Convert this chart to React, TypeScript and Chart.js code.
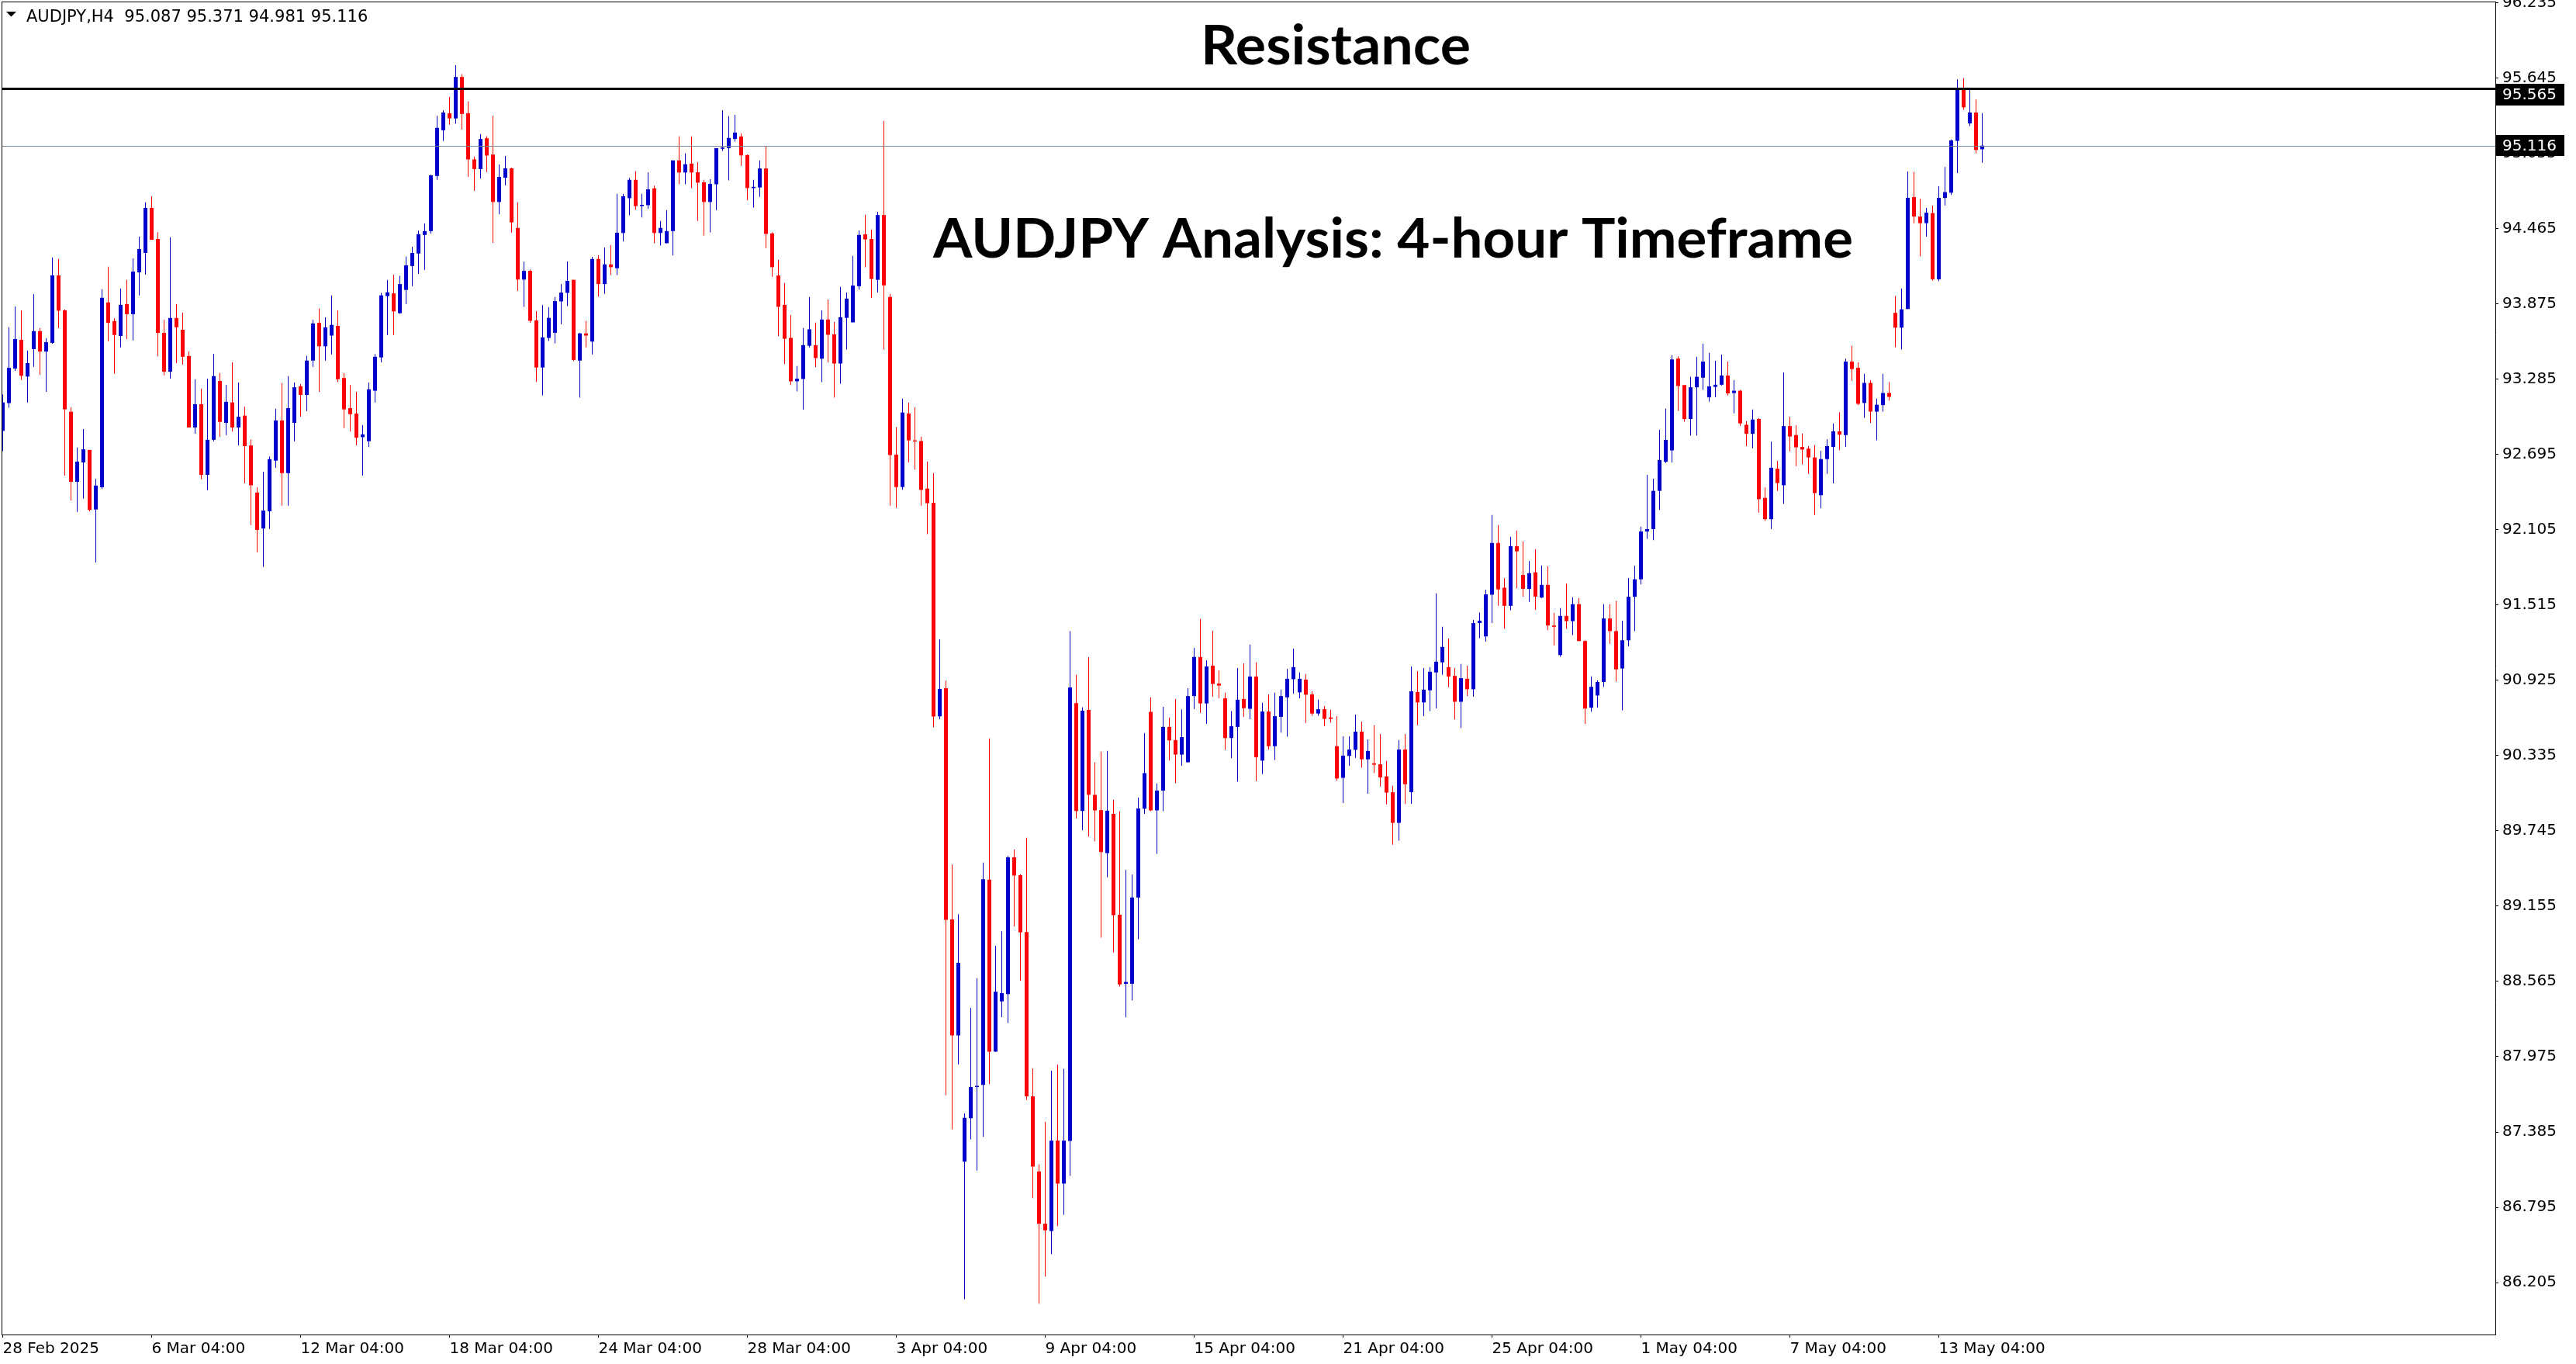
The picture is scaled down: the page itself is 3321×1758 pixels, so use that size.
import React, { useEffect, useRef } from "react";
import { Chart, registerables } from "chart.js";

Chart.register(...registerables);

const OPEN = [
  92.880, 93.098, 93.369, 93.594, 93.306, 93.521, 93.662, 93.502, 93.570, 94.099,
  93.825, 93.030, 92.481, 92.633, 92.731, 92.264, 92.438, 93.887, 93.741, 93.624,
  93.874, 93.795, 94.123, 94.275, 94.628, 94.384, 93.648, 93.344, 93.765, 93.673,
  93.467, 92.907, 93.089, 92.535, 92.810, 93.271, 92.943, 93.103, 92.907, 93.000,
  92.766, 92.397, 92.115, 92.250, 92.647, 92.962, 92.549, 92.943, 93.230, 93.162,
  93.431, 93.727, 93.543, 93.627, 93.703, 93.295, 93.059, 93.016, 92.831, 92.799,
  93.195, 93.456, 93.936, 93.958, 93.803, 93.985, 94.172, 94.270, 94.416, 94.446,
  94.878, 95.236, 95.369, 95.329, 95.654, 95.369, 95.008, 94.932, 95.174, 95.046,
  94.674, 94.864, 94.938, 94.471, 94.066, 94.134, 93.746, 93.377, 93.609, 93.649,
  93.895, 93.962, 94.064, 93.431, 93.644, 93.580, 94.227, 94.031, 94.185, 94.155,
  94.431, 94.704, 94.848, 94.642, 94.649, 94.781, 94.431, 94.351, 94.446, 95.000,
  94.905, 94.975, 94.907, 94.828, 94.674, 94.813, 95.091, 95.096, 95.168, 95.188,
  95.042, 94.783, 94.788, 94.937, 94.428, 94.098, 93.868, 93.609, 93.269, 93.287,
  93.547, 93.552, 93.446, 93.753, 93.637, 93.408, 93.766, 93.731, 94.014, 94.421,
  94.384, 94.064, 94.572, 93.930, 92.694, 92.440, 93.017, 92.806, 92.800, 92.428,
  92.316, 90.643, 90.864, 89.052, 88.142, 87.153, 87.493, 87.738, 87.754, 89.363,
  88.015, 88.409, 88.466, 89.538, 89.398, 88.953, 87.665, 87.076, 86.666, 86.609,
  87.318, 86.981, 87.315, 90.746, 89.901, 90.693, 90.027, 89.908, 89.571, 89.879,
  89.088, 88.547, 88.547, 89.223, 89.919, 90.678, 89.906, 90.061, 90.560, 90.457,
  90.343, 90.283, 90.802, 91.108, 90.744, 91.040, 90.900, 90.784, 90.473, 90.560,
  90.779, 90.702, 90.955, 90.296, 90.681, 90.409, 90.639, 90.792, 90.934, 90.831,
  90.931, 90.815, 90.665, 90.699, 90.634, 90.409, 90.161, 90.333, 90.380, 90.523,
  90.306, 90.275, 90.267, 90.172, 90.048, 89.808, 90.383, 90.048, 90.834, 90.752,
  90.847, 90.987, 91.066, 91.029, 90.960, 90.757, 90.937, 90.855, 91.374, 91.269,
  91.596, 92.002, 91.651, 91.509, 91.976, 91.751, 91.642, 91.772, 91.574, 91.673,
  91.355, 91.123, 91.430, 91.389, 91.522, 91.233, 90.711, 90.806, 90.912, 91.410,
  91.311, 91.018, 91.239, 91.580, 91.717, 92.092, 92.110, 92.410, 92.638, 92.727,
  93.447, 93.239, 92.973, 93.222, 93.297, 93.143, 93.225, 93.242, 93.314, 93.177,
  93.195, 92.928, 92.857, 92.973, 92.355, 92.188, 92.584, 92.454, 92.918, 92.847,
  92.754, 92.741, 92.672, 92.376, 92.659, 92.754, 92.877, 92.847, 93.423, 93.375,
  93.099, 93.256, 93.031, 93.082, 93.177, 93.805, 93.689, 93.836, 94.713, 94.560,
  94.508, 94.587, 94.068, 94.706, 94.747, 95.153, 95.556, 95.290, 95.375, 95.087,
];

const HIGH = [
  93.165, 93.692, 93.855, 93.825, 93.510, 93.952, 93.686, 93.608, 94.240, 94.227,
  93.833, 93.065, 92.750, 92.894, 92.731, 92.503, 93.990, 94.167, 93.762, 93.996,
  94.064, 94.232, 94.403, 94.672, 94.718, 94.438, 93.751, 94.398, 93.874, 93.806,
  93.502, 93.285, 93.211, 93.290, 93.485, 93.334, 93.241, 93.418, 93.260, 93.070,
  92.812, 92.438, 92.560, 92.679, 93.054, 93.255, 93.309, 93.260, 93.247, 93.469,
  93.751, 93.838, 93.770, 93.942, 93.825, 93.334, 93.241, 93.187, 92.926, 93.260,
  93.483, 93.961, 94.064, 94.104, 94.096, 94.246, 94.324, 94.449, 94.506, 94.889,
  95.350, 95.394, 95.497, 95.747, 95.676, 95.462, 95.030, 95.206, 95.190, 95.350,
  94.968, 95.035, 94.943, 94.672, 94.207, 94.142, 93.819, 93.866, 93.850, 93.930,
  94.031, 94.208, 94.064, 93.649, 93.741, 94.245, 94.257, 94.317, 94.337, 94.739,
  94.739, 94.863, 94.915, 94.739, 94.907, 94.803, 94.525, 94.610, 95.000, 95.188,
  95.054, 95.188, 94.987, 94.848, 94.853, 95.096, 95.394, 95.347, 95.357, 95.213,
  95.047, 94.848, 95.000, 95.113, 94.436, 94.220, 94.039, 93.788, 93.389, 93.686,
  93.930, 93.729, 93.825, 93.910, 93.734, 94.009, 93.964, 94.252, 94.451, 94.575,
  94.458, 94.597, 95.310, 93.954, 92.910, 93.133, 93.101, 93.064, 92.834, 92.639,
  92.549, 91.246, 90.923, 89.481, 89.093, 87.531, 88.358, 88.590, 89.497, 90.470,
  88.845, 88.959, 89.548, 89.599, 89.405, 89.691, 87.884, 87.131, 87.464, 87.865,
  87.913, 87.881, 91.310, 90.969, 90.715, 91.106, 90.283, 90.367, 90.372, 89.990,
  89.898, 89.439, 89.402, 90.006, 90.512, 90.792, 90.117, 90.718, 90.633, 90.779,
  90.697, 90.863, 91.179, 91.406, 91.082, 91.314, 91.003, 90.829, 90.684, 91.021,
  91.058, 91.206, 91.066, 90.750, 90.815, 90.829, 90.853, 91.016, 91.174, 90.987,
  90.974, 90.839, 90.773, 90.723, 90.694, 90.644, 90.486, 90.486, 90.657, 90.602,
  90.462, 90.573, 90.504, 90.293, 90.098, 90.457, 90.504, 91.034, 90.997, 91.021,
  91.029, 91.607, 91.345, 91.253, 91.021, 91.053, 91.040, 91.398, 91.456, 91.636,
  92.221, 92.142, 91.725, 92.050, 92.100, 92.014, 91.860, 91.953, 91.826, 91.819,
  91.454, 91.492, 91.683, 91.577, 91.570, 91.239, 90.956, 90.925, 91.522, 91.522,
  91.547, 91.393, 91.727, 91.823, 92.130, 92.536, 92.505, 92.888, 93.055, 93.474,
  93.464, 93.239, 93.304, 93.461, 93.563, 93.492, 93.430, 93.478, 93.423, 93.277,
  93.201, 92.956, 93.048, 92.980, 92.437, 92.795, 92.645, 93.338, 92.990, 92.925,
  92.860, 92.761, 92.768, 92.724, 92.816, 92.939, 93.027, 93.447, 93.546, 93.417,
  93.328, 93.277, 93.133, 93.328, 93.263, 93.938, 93.997, 94.914, 94.908, 94.700,
  94.628, 94.645, 94.798, 94.949, 95.164, 95.635, 95.645, 95.556, 95.478, 95.371,
];

const LOW = [
  92.723, 93.062, 93.350, 93.279, 93.103, 93.382, 93.320, 93.187, 93.564, 93.686,
  92.530, 92.335, 92.245, 92.348, 92.250, 91.849, 92.424, 93.583, 93.328, 93.534,
  93.600, 93.589, 93.942, 94.104, 94.378, 93.464, 93.315, 93.290, 93.412, 93.399,
  92.907, 92.858, 92.500, 92.416, 92.799, 92.834, 92.848, 92.875, 92.766, 92.470,
  92.142, 91.927, 91.813, 92.112, 92.590, 92.294, 92.294, 92.799, 92.991, 93.035,
  93.382, 93.187, 93.431, 93.480, 93.263, 92.902, 92.875, 92.766, 92.530, 92.753,
  93.103, 93.418, 93.632, 93.632, 93.798, 93.874, 94.015, 94.110, 94.142, 94.427,
  94.848, 95.152, 95.280, 95.288, 95.242, 94.870, 94.761, 94.859, 94.908, 94.354,
  94.577, 94.805, 94.435, 93.977, 93.852, 93.727, 93.263, 93.157, 93.585, 93.567,
  93.716, 93.858, 93.426, 93.140, 93.535, 93.480, 93.932, 93.954, 94.101, 94.101,
  94.364, 94.570, 94.612, 94.553, 94.620, 94.351, 94.332, 94.351, 94.255, 94.813,
  94.813, 94.783, 94.525, 94.411, 94.436, 94.610, 95.074, 94.843, 95.148, 94.957,
  94.689, 94.630, 94.714, 94.312, 94.088, 93.622, 93.403, 93.240, 93.190, 93.046,
  93.535, 93.379, 93.262, 93.418, 93.140, 93.250, 93.518, 93.731, 93.987, 94.163,
  93.922, 93.964, 93.518, 92.294, 92.277, 92.418, 92.635, 92.576, 92.294, 92.071,
  90.556, 90.620, 87.674, 87.407, 87.916, 86.075, 87.328, 87.083, 87.347, 87.760,
  88.015, 88.285, 88.240, 88.997, 88.571, 87.636, 86.866, 86.040, 86.253, 86.428,
  86.647, 86.736, 87.041, 89.844, 89.751, 89.700, 89.663, 88.909, 89.381, 88.793,
  88.526, 88.284, 88.416, 88.896, 89.879, 89.900, 89.565, 89.900, 90.296, 90.119,
  90.256, 90.283, 90.699, 90.670, 90.583, 90.797, 90.784, 90.380, 90.314, 90.130,
  90.639, 90.620, 90.135, 90.190, 90.383, 90.301, 90.515, 90.483, 90.821, 90.784,
  90.591, 90.647, 90.647, 90.565, 90.594, 90.138, 89.964, 90.256, 90.317, 90.240,
  90.037, 90.198, 90.093, 89.953, 89.637, 89.668, 89.956, 89.958, 90.575, 90.644,
  90.684, 90.705, 90.968, 90.871, 90.618, 90.552, 90.802, 90.797, 91.256, 91.229,
  91.374, 91.509, 91.330, 91.475, 91.646, 91.581, 91.540, 91.478, 91.570, 91.318,
  91.198, 91.110, 91.328, 91.280, 91.233, 90.584, 90.680, 90.711, 90.874, 91.212,
  90.915, 90.690, 91.192, 91.311, 91.676, 92.034, 92.024, 92.260, 92.628, 92.632,
  93.038, 92.952, 92.843, 92.843, 93.201, 93.109, 93.143, 93.236, 93.157, 93.017,
  92.918, 92.761, 92.744, 92.239, 92.174, 92.110, 92.410, 92.307, 92.720, 92.604,
  92.618, 92.543, 92.219, 92.273, 92.543, 92.468, 92.727, 92.754, 93.273, 93.082,
  92.983, 92.942, 92.806, 93.031, 93.116, 93.536, 93.519, 93.836, 94.508, 94.249,
  94.403, 94.058, 94.055, 94.648, 94.730, 94.901, 95.396, 95.269, 95.054, 94.981,
];

const CLOSE = [
  93.103, 93.374, 93.600, 93.312, 93.412, 93.662, 93.502, 93.575, 94.099, 93.822,
  93.049, 92.481, 92.639, 92.736, 92.261, 92.451, 93.923, 93.727, 93.632, 93.868,
  93.795, 94.129, 94.305, 94.628, 94.378, 93.648, 93.344, 93.765, 93.692, 93.461,
  92.907, 93.089, 92.535, 92.810, 93.309, 92.951, 93.108, 92.907, 92.991, 92.761,
  92.454, 92.104, 92.256, 92.658, 92.962, 92.549, 93.059, 93.222, 93.162, 93.431,
  93.722, 93.543, 93.692, 93.711, 93.285, 93.049, 93.011, 92.826, 92.853, 93.206,
  93.461, 93.942, 93.966, 93.817, 94.031, 94.178, 94.275, 94.422, 94.446, 94.883,
  95.255, 95.375, 95.329, 95.654, 95.364, 95.008, 94.932, 95.168, 95.038, 94.674,
  94.870, 94.938, 94.514, 94.066, 94.134, 93.743, 93.377, 93.613, 93.766, 93.897,
  93.964, 94.056, 93.436, 93.644, 93.627, 94.227, 94.031, 94.185, 94.163, 94.433,
  94.719, 94.848, 94.642, 94.652, 94.773, 94.431, 94.471, 94.446, 95.000, 94.905,
  94.970, 94.905, 94.826, 94.674, 94.816, 95.096, 95.101, 95.176, 95.218, 95.039,
  94.783, 94.793, 94.937, 94.424, 94.163, 93.853, 93.602, 93.269, 93.289, 93.552,
  93.676, 93.451, 93.753, 93.634, 93.408, 93.771, 93.917, 94.019, 94.416, 94.381,
  94.071, 94.572, 94.021, 92.691, 92.440, 93.024, 92.806, 92.797, 92.418, 92.313,
  90.642, 90.858, 89.048, 88.142, 88.711, 87.496, 87.738, 87.747, 89.366, 88.015,
  88.485, 88.473, 89.538, 89.395, 88.950, 87.665, 87.115, 86.666, 86.615, 87.318,
  86.981, 87.318, 90.870, 89.901, 90.687, 90.028, 89.906, 89.579, 89.903, 89.085,
  88.542, 88.561, 89.223, 89.921, 90.198, 89.906, 90.061, 90.560, 90.454, 90.343,
  90.480, 90.802, 91.108, 90.744, 91.034, 90.897, 90.884, 90.473, 90.565, 90.773,
  90.707, 90.955, 90.322, 90.681, 90.409, 90.644, 90.802, 90.937, 91.029, 90.937,
  90.813, 90.665, 90.699, 90.623, 90.623, 90.156, 90.335, 90.383, 90.523, 90.306,
  90.372, 90.264, 90.164, 90.045, 89.808, 90.383, 90.111, 90.839, 90.752, 90.852,
  90.992, 91.071, 91.187, 90.955, 90.757, 90.942, 90.855, 91.374, 91.393, 91.599,
  92.002, 91.638, 91.509, 91.976, 91.936, 91.642, 91.765, 91.581, 91.673, 91.355,
  91.345, 91.430, 91.389, 91.522, 91.233, 90.704, 90.874, 90.912, 91.410, 91.311,
  91.011, 91.239, 91.580, 91.717, 92.092, 92.110, 92.410, 92.652, 92.809, 93.440,
  93.232, 92.973, 93.222, 93.304, 93.423, 93.229, 93.242, 93.314, 93.174, 93.195,
  92.939, 92.857, 92.969, 92.345, 92.188, 92.591, 92.471, 92.918, 92.836, 92.751,
  92.734, 92.672, 92.393, 92.659, 92.761, 92.877, 92.850, 93.423, 93.365, 93.092,
  93.256, 93.031, 93.085, 93.177, 93.147, 93.689, 93.833, 94.706, 94.560, 94.508,
  94.590, 94.068, 94.706, 94.751, 95.157, 95.556, 95.416, 95.375, 95.082, 95.116,
];

const X_TICK_BARS = [0, 24, 48, 72, 96, 120, 144, 168, 192, 216, 240, 264, 288, 312];
const X_TICK_LABELS = [
  "28 Feb 2025", "6 Mar 04:00", "12 Mar 04:00", "18 Mar 04:00", "24 Mar 04:00",
  "28 Mar 04:00", "3 Apr 04:00", "9 Apr 04:00", "15 Apr 04:00", "21 Apr 04:00",
  "25 Apr 04:00", "1 May 04:00", "7 May 04:00", "13 May 04:00",
];
const Y_TICKS = [
  86.205, 86.795, 87.385, 87.975, 88.565, 89.155, 89.745, 90.335, 90.925,
  91.515, 92.105, 92.695, 93.285, 93.875, 94.465, 95.055, 95.645, 96.235,
];
const RESISTANCE = 95.565;
const LAST_PRICE = 95.116;
const HEADER = "AUDJPY,H4  95.087 95.371 94.981 95.116";
const TITLE_TOP = "Resistance";
const TITLE_MAIN = "AUDJPY Analysis: 4-hour Timeframe";

const BLUE = "#0000CD";
const RED = "#FF0000";
const AXIS_FONT = { family: "'DejaVu Sans', sans-serif", size: 20 };

const W = 3321;
const H = 1758;

function fitText(ctx: CanvasRenderingContext2D, text: string, x: number, y: number, width: number, align: "left" | "center") {
  ctx.save();
  ctx.font = "bold 71px Lato, 'Open Sans', sans-serif";
  const m = ctx.measureText(text).width;
  const sx = width / m;
  ctx.translate(x, y);
  ctx.scale(sx, 1);
  ctx.textAlign = align;
  ctx.textBaseline = "alphabetic";
  ctx.fillStyle = "#000";
  ctx.fillText(text, 0, 0);
  ctx.restore();
}

const decorPlugin = {
  id: "decor",
  afterDatasetsDraw(chart: any) {
    const { ctx, chartArea } = chart;
    const y = chart.scales.y;
    ctx.save();
    const ry = Math.round(y.getPixelForValue(RESISTANCE));
    ctx.fillStyle = "#000";
    ctx.fillRect(chartArea.left, ry - 1, chartArea.right - chartArea.left, 3);
    const ly = Math.round(y.getPixelForValue(LAST_PRICE));
    ctx.fillStyle = "#778899";
    ctx.fillRect(chartArea.left, ly, chartArea.right - chartArea.left, 1);
    ctx.restore();

    fitText(ctx, TITLE_TOP, 1722, 83, 348, "center");
    fitText(ctx, TITLE_MAIN, 1203, 332, 1186, "left");
  },
  afterDraw(chart: any) {
    const { ctx, chartArea } = chart;
    const y = chart.scales.y;
    ctx.save();
    ctx.fillStyle = "#000";
    ctx.fillRect(chartArea.left, chartArea.top, chartArea.right - chartArea.left + 1, 1);
    ctx.fillRect(chartArea.left, chartArea.top, 1, chartArea.bottom - chartArea.top);

    ctx.font = "20px 'DejaVu Sans', sans-serif";
    ctx.textBaseline = "middle";
    ctx.textAlign = "left";
    const ry = Math.round(y.getPixelForValue(RESISTANCE));
    const boxes = [
      { top: ry - 6, h: 28, text: RESISTANCE.toFixed(3) },
      { top: Math.round(y.getPixelForValue(LAST_PRICE)) - 14, h: 27, text: LAST_PRICE.toFixed(3) },
    ];
    boxes.forEach((b) => {
      ctx.fillStyle = "#000";
      ctx.fillRect(chartArea.right + 1, b.top, 88, b.h);
      ctx.fillStyle = "#fff";
      ctx.fillText(b.text, chartArea.right + 9, b.top + b.h / 2 + 1);
    });

    ctx.fillStyle = "#000";
    ctx.beginPath();
    ctx.moveTo(8, 15);
    ctx.lineTo(21, 15);
    ctx.lineTo(14.5, 21.5);
    ctx.closePath();
    ctx.fill();
    ctx.font = "21px 'DejaVu Sans', sans-serif";
    ctx.textBaseline = "alphabetic";
    ctx.fillText(HEADER, 34, 28);
    ctx.restore();
  },
};

export default function App() {
  const ref = useRef<HTMLCanvasElement | null>(null);

  useEffect(() => {
    if (!ref.current) return;
    const bodies = OPEN.map((o, i) => ({ x: i, y: [o, CLOSE[i]] }));
    const wicks = LOW.map((l, i) => ({ x: i, y: [l, HIGH[i]] }));
    const colors = OPEN.map((o, i) => (CLOSE[i] >= o ? BLUE : RED));

    const chart = new Chart(ref.current, {
      type: "bar",
      data: {
        datasets: [
          {
            data: bodies as any,
            backgroundColor: colors,
            borderWidth: 0,
            grouped: false,
            maxBarThickness: 5,
            minBarLength: 1,
          } as any,
          {
            data: wicks as any,
            backgroundColor: colors,
            borderWidth: 0,
            grouped: false,
            maxBarThickness: 1,
          } as any,
        ],
      },
      options: {
        responsive: false,
        animation: false,
        devicePixelRatio: 1,
        events: [],
        layout: { padding: { left: 2, top: 2, right: 0, bottom: 0 } },
        plugins: { legend: { display: false }, tooltip: { enabled: false } },
        scales: {
          x: {
            type: "linear",
            offset: false,
            min: -0.1875,
            max: 401.6875,
            grid: { display: true, offset: false, drawOnChartArea: false, drawTicks: true, tickLength: 4, color: "#000" },
            border: { display: true, color: "#000", width: 1 },
            ticks: {
              autoSkip: false,
              maxRotation: 0,
              minRotation: 0,
              align: "start",
              padding: 3,
              color: "#000",
              font: AXIS_FONT,
              callback: (v: any) => {
                const k = X_TICK_BARS.indexOf(Number(v));
                return k >= 0 ? X_TICK_LABELS[k] : "";
              },
            },
            afterBuildTicks: (s: any) => {
              s.ticks = X_TICK_BARS.map((v) => ({ value: v }));
            },
            afterFit: (s: any) => {
              s.height = 38;
              s.paddingLeft = 0;
              s.paddingRight = 0;
              s.paddingTop = 0;
              s.paddingBottom = 0;
            },
          } as any,
          y: {
            type: "linear",
            position: "right",
            beginAtZero: false,
            min: 85.798,
            max: 96.245,
            grid: { display: true, drawOnChartArea: false, drawTicks: true, tickLength: 4, color: "#000" },
            border: { display: true, color: "#000", width: 1 },
            ticks: {
              padding: 5,
              color: "#000",
              font: AXIS_FONT,
              callback: (v: any) => Number(v).toFixed(3),
            },
            afterBuildTicks: (s: any) => {
              s.ticks = Y_TICKS.map((v) => ({ value: v }));
            },
            afterFit: (s: any) => {
              s.width = 104;
              s.paddingLeft = 0;
              s.paddingRight = 0;
              s.paddingTop = 0;
              s.paddingBottom = 0;
            },
          } as any,
        },
      },
      plugins: [decorPlugin],
    });

    return () => chart.destroy();
  }, []);

  return (
    <div style={{ position: "fixed", left: 0, top: 0, width: W, height: H, background: "#fff" }}>
      <canvas ref={ref} width={W} height={H} style={{ display: "block", width: W, height: H }} />
    </div>
  );
}
